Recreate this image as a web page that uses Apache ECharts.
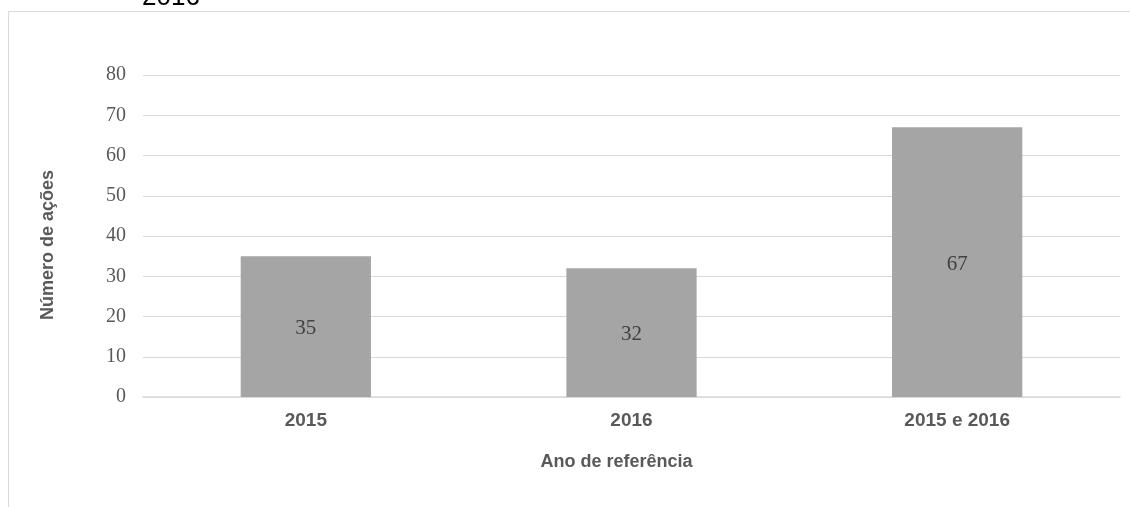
<!DOCTYPE html>
<html>
<head>
<meta charset="utf-8">
<script src="https://cdn.jsdelivr.net/npm/echarts@6/dist/echarts.min.js"></script>
<style>
  html, body { margin: 0; padding: 0; background: #fff; }
  #chart { width: 1130px; height: 507px; }
</style>
</head>
<body>
<div id="chart"></div>
<script>
// Number of actions per reference year
const categories = ['2015', '2016', '2015 e 2016'];
const acoes = [35, 32, 67];
const yTicks = [0, 10, 20, 30, 40, 50, 60, 70, 80];

const sansBold = '"Liberation Sans", Arial, sans-serif';
const serif = '"Liberation Serif", "Times New Roman", serif';

const chart = echarts.init(document.getElementById('chart'), null, { renderer: 'canvas' });

chart.setOption({
  animation: false,
  backgroundColor: '#ffffff',
  graphic: [
    {
      type: 'rect',
      shape: { x: 8.5, y: 11.5, width: 1200, height: 600 },
      style: { fill: 'none', stroke: '#d9d9d9', lineWidth: 1 },
      z: -1
    },
    {
      type: 'text',
      style: {
        x: 142,
        y: 10.5,
        text: '2016',
        font: '26px "Liberation Sans", Arial, sans-serif',
        fill: '#000000',
        textAlign: 'left',
        textVerticalAlign: 'bottom'
      }
    }
  ],
  grid: { left: 143, right: 10, top: 75, bottom: 110, containLabel: false },
  xAxis: {
    type: 'category',
    data: categories,
    name: 'Ano de referência',
    nameLocation: 'middle',
    nameGap: 56,
    nameTextStyle: {
      color: '#595959', fontSize: 18, fontWeight: 'bold', fontFamily: sansBold,
      padding: [0, 30, 0, 0]
    },
    axisLine: { show: true, lineStyle: { color: '#d9d9d9', width: 1.5 } },
    axisTick: { show: false },
    axisLabel: { color: '#595959', fontSize: 19, fontWeight: 'bold', fontFamily: sansBold, margin: 14 }
  },
  yAxis: {
    type: 'value',
    min: yTicks[0],
    max: yTicks[yTicks.length - 1],
    interval: 10,
    name: 'Número de ações',
    nameLocation: 'middle',
    nameGap: 86,
    nameTextStyle: {
      color: '#595959', fontSize: 18, fontWeight: 'bold', fontFamily: sansBold,
      padding: [0, 18, 0, 0]
    },
    axisLine: { show: false },
    axisTick: { show: false },
    splitLine: { lineStyle: { color: '#d9d9d9', width: 1 } },
    axisLabel: { color: '#595959', fontSize: 20, fontFamily: serif, margin: 17 }
  },
  series: [{
    type: 'bar',
    data: acoes,
    barWidth: '40%',
    itemStyle: { color: '#a5a5a5' },
    label: {
      show: true,
      position: 'inside',
      offset: [0, 2],
      color: '#404040',
      fontSize: 21,
      fontFamily: serif
    }
  }]
});
</script>
</body>
</html>
